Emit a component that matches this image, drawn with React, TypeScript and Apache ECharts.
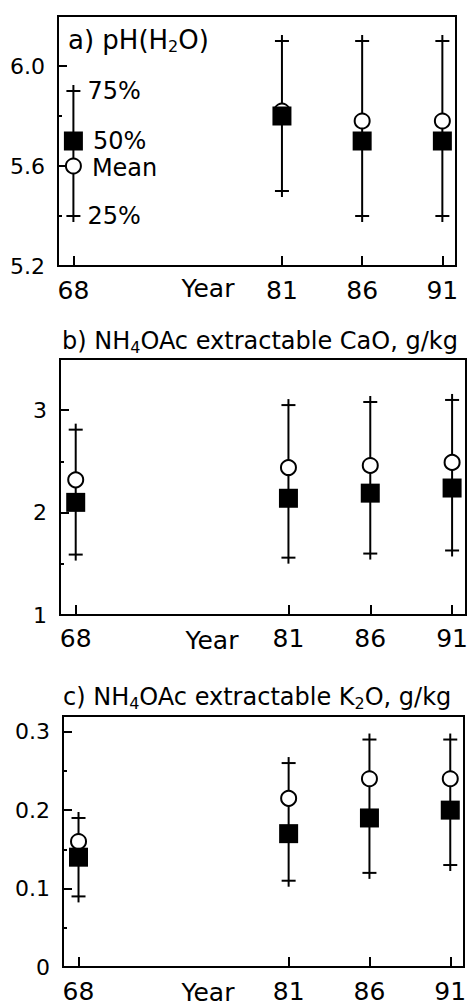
import React, { useEffect, useRef } from 'react';
import * as echarts from 'echarts';

// ---- data ----
const years = [68, 81, 86, 91];
const yearTicks = [68, 81, 86, 91];

const phQ75 = [5.9, 6.1, 6.1, 6.1];
const phMedian = [5.7, 5.8, 5.7, 5.7];
const phMean = [5.6, 5.82, 5.78, 5.78];
const phQ25 = [5.4, 5.5, 5.4, 5.4];

const caoQ75 = [2.81, 3.05, 3.08, 3.1];
const caoMedian = [2.1, 2.14, 2.19, 2.24];
const caoMean = [2.32, 2.44, 2.46, 2.49];
const caoQ25 = [1.59, 1.56, 1.6, 1.63];

const k2oQ75 = [0.19, 0.26, 0.29, 0.29];
const k2oMedian = [0.14, 0.17, 0.19, 0.2];
const k2oMean = [0.16, 0.215, 0.24, 0.24];
const k2oQ25 = [0.09, 0.11, 0.12, 0.13];

const legendQ75 = '75%';
const legendMedian = '50%';
const legendMean = 'Mean';
const legendQ25 = '25%';

const titleA = '{n|a) pH(H}{s|2}{n|O)}';
const titleB = '{n|b) NH}{s|4}{n|OAc extractable CaO, g/kg}';
const titleC = '{n|c) NH}{s|4}{n|OAc extractable K}{s|2}{n|O, g/kg}';

const FONT = "'DejaVu Sans', sans-serif";

export default function App() {
  const ref = useRef<HTMLDivElement>(null);

  useEffect(() => {
    if (!ref.current) return;
    const chart = echarts.init(ref.current, null, { renderer: 'svg' });

    const panels = [
      {
        q75: phQ75, med: phMedian, mean: phMean, q25: phQ25,
        grid: { left: 58, top: 16, width: 398, height: 250 },
        yMin: 5.2, yMax: 6.2, major: 0.4, minor: 0.2,
        fmt: (v: number) => v.toFixed(1),
        labelMargin: 12, nameGap: 10, namePad: 98, annotate: true,
        title: titleA, titleLeft: 68, titleTop: 26, titleSize: 26,
      },
      {
        q75: caoQ75, med: caoMedian, mean: caoMean, q25: caoQ25,
        grid: { left: 60, top: 359, width: 406, height: 256 },
        yMin: 1, yMax: 3.5, major: 1, minor: 0.5,
        fmt: (v: number) => String(Math.round(v)),
        labelMargin: 11, nameGap: 13, namePad: 102, annotate: false,
        title: titleB, titleLeft: 62, titleTop: 327, titleSize: 24,
      },
      {
        q75: k2oQ75, med: k2oMedian, mean: k2oMean, q25: k2oQ25,
        grid: { left: 63, top: 716, width: 401, height: 251 },
        yMin: 0, yMax: 0.32, major: 0.1, minor: 0.05,
        fmt: (v: number) => (Math.abs(v) < 1e-9 ? '0' : v.toFixed(1)),
        labelMargin: 12, nameGap: 13, namePad: 111, annotate: false,
        title: titleC, titleLeft: 63, titleTop: 683, titleSize: 24,
      },
    ];

    const black = '#000';
    const grids: any[] = [];
    const xAxes: any[] = [];
    const yAxes: any[] = [];
    const series: any[] = [];
    const titles: any[] = [];

    panels.forEach((p, i) => {
      grids.push({
        ...p.grid,
        show: true,
        borderColor: black,
        borderWidth: 2,
        backgroundColor: 'transparent',
        containLabel: false,
        outerBoundsMode: 'none',
      });
      xAxes.push({
        gridIndex: i,
        type: 'value',
        min: 67.04,
        max: 91.85,
        axisLine: { show: true, onZero: false, lineStyle: { color: black, width: 2 } },
        axisTick: { show: true, inside: true, length: 10, customValues: yearTicks, lineStyle: { color: black, width: 2 } },
        axisLabel: { customValues: yearTicks, margin: p.labelMargin, fontSize: 25, fontFamily: FONT, color: black },
        splitLine: { show: false },
        name: 'Year',
        nameLocation: 'middle',
        nameGap: p.nameGap,
        nameMoveOverlap: false,
        nameTextStyle: { fontSize: 25, fontFamily: FONT, color: black, padding: [0, p.namePad, 0, 0] },
      });
      yAxes.push({
        gridIndex: i,
        type: 'value',
        position: 'left',
        min: p.yMin,
        max: p.yMax,
        interval: p.major,
        axisLine: { show: true, onZero: false, lineStyle: { color: black, width: 2 } },
        axisTick: { show: true, inside: true, length: 9, lineStyle: { color: black, width: 2 } },
        axisLabel: { showMaxLabel: false, fontSize: 22, fontFamily: FONT, color: black, margin: 13, formatter: p.fmt },
        splitLine: { show: false },
      });
      yAxes.push({
        gridIndex: i,
        type: 'value',
        position: 'left',
        offset: 0,
        min: p.yMin,
        max: p.yMax,
        interval: p.minor,
        axisLine: { show: false },
        axisTick: { show: true, inside: true, length: 4, lineStyle: { color: black, width: 2 } },
        axisLabel: { show: false },
        splitLine: { show: false },
      });

      const annotate = p.annotate;
      series.push({
        type: 'custom',
        xAxisIndex: i,
        yAxisIndex: i * 2,
        silent: true,
        clip: false,
        z: 2,
        encode: { x: 0, y: [1, 2] },
        data: years.map((y, k) => [y, p.q25[k], p.q75[k]]),
        renderItem: (params: any, api: any) => {
          const x = api.value(0);
          const lo = api.coord([x, api.value(1)]);
          const hi = api.coord([x, api.value(2)]);
          const cx = lo[0];
          const ext = 6;
          const cap = 7;
          const st = { stroke: black, lineWidth: 2 };
          const children: any[] = [
            { type: 'line', shape: { x1: cx, y1: hi[1] - ext, x2: cx, y2: lo[1] + ext }, style: st },
            { type: 'line', shape: { x1: cx - cap, y1: hi[1], x2: cx + cap, y2: hi[1] }, style: st },
            { type: 'line', shape: { x1: cx - cap, y1: lo[1], x2: cx + cap, y2: lo[1] }, style: st },
          ];
          if (annotate && params.dataIndex === 0) {
            children.push({
              type: 'text', x: cx + 14, y: hi[1],
              style: { text: legendQ75, fill: black, fontSize: 24, fontFamily: FONT, verticalAlign: 'middle', align: 'left' },
            });
            children.push({
              type: 'text', x: cx + 14, y: lo[1],
              style: { text: legendQ25, fill: black, fontSize: 24, fontFamily: FONT, verticalAlign: 'middle', align: 'left' },
            });
          }
          return { type: 'group', children };
        },
      });
      series.push({
        type: 'scatter',
        xAxisIndex: i,
        yAxisIndex: i * 2,
        silent: true,
        z: 3,
        symbol: 'circle',
        symbolSize: 15,
        itemStyle: { color: '#fff', borderColor: black, borderWidth: 2, opacity: 1 },
        label: { show: false, position: 'right', distance: 10, fontSize: 24, lineHeight: 22, fontFamily: FONT, color: black },
        data: years.map((y, k) =>
          annotate && k === 0
            ? { value: [y, p.mean[k]], label: { show: true, formatter: legendMean, offset: [0, 2] } }
            : [y, p.mean[k]]
        ),
      });
      series.push({
        type: 'scatter',
        xAxisIndex: i,
        yAxisIndex: i * 2,
        silent: true,
        z: 4,
        symbol: 'rect',
        symbolSize: 19,
        itemStyle: { color: black, opacity: 1 },
        label: { show: false, position: 'right', distance: 10, fontSize: 24, lineHeight: 22, fontFamily: FONT, color: black },
        data: years.map((y, k) =>
          annotate && k === 0
            ? { value: [y, p.med[k]], label: { show: true, formatter: legendMedian } }
            : [y, p.med[k]]
        ),
      });

      titles.push({
        text: p.title,
        left: p.titleLeft,
        top: p.titleTop,
        padding: 0,
        textStyle: {
          fontWeight: 'normal',
          rich: {
            n: { fontSize: p.titleSize, fontWeight: 'normal', fontFamily: FONT, color: black, lineHeight: 28 },
            s: { fontSize: 16, fontWeight: 'normal', fontFamily: FONT, color: black, lineHeight: 17, verticalAlign: 'bottom' },
          },
        },
      });
    });

    chart.setOption({
      animation: false,
      backgroundColor: '#fff',
      title: titles,
      grid: grids,
      xAxis: xAxes,
      yAxis: yAxes,
      series,
    });

    return () => chart.dispose();
  }, []);

  return (
    <div
      ref={ref}
      style={{ position: 'absolute', left: 0, top: 0, width: 471, height: 1006 }}
    />
  );
}
